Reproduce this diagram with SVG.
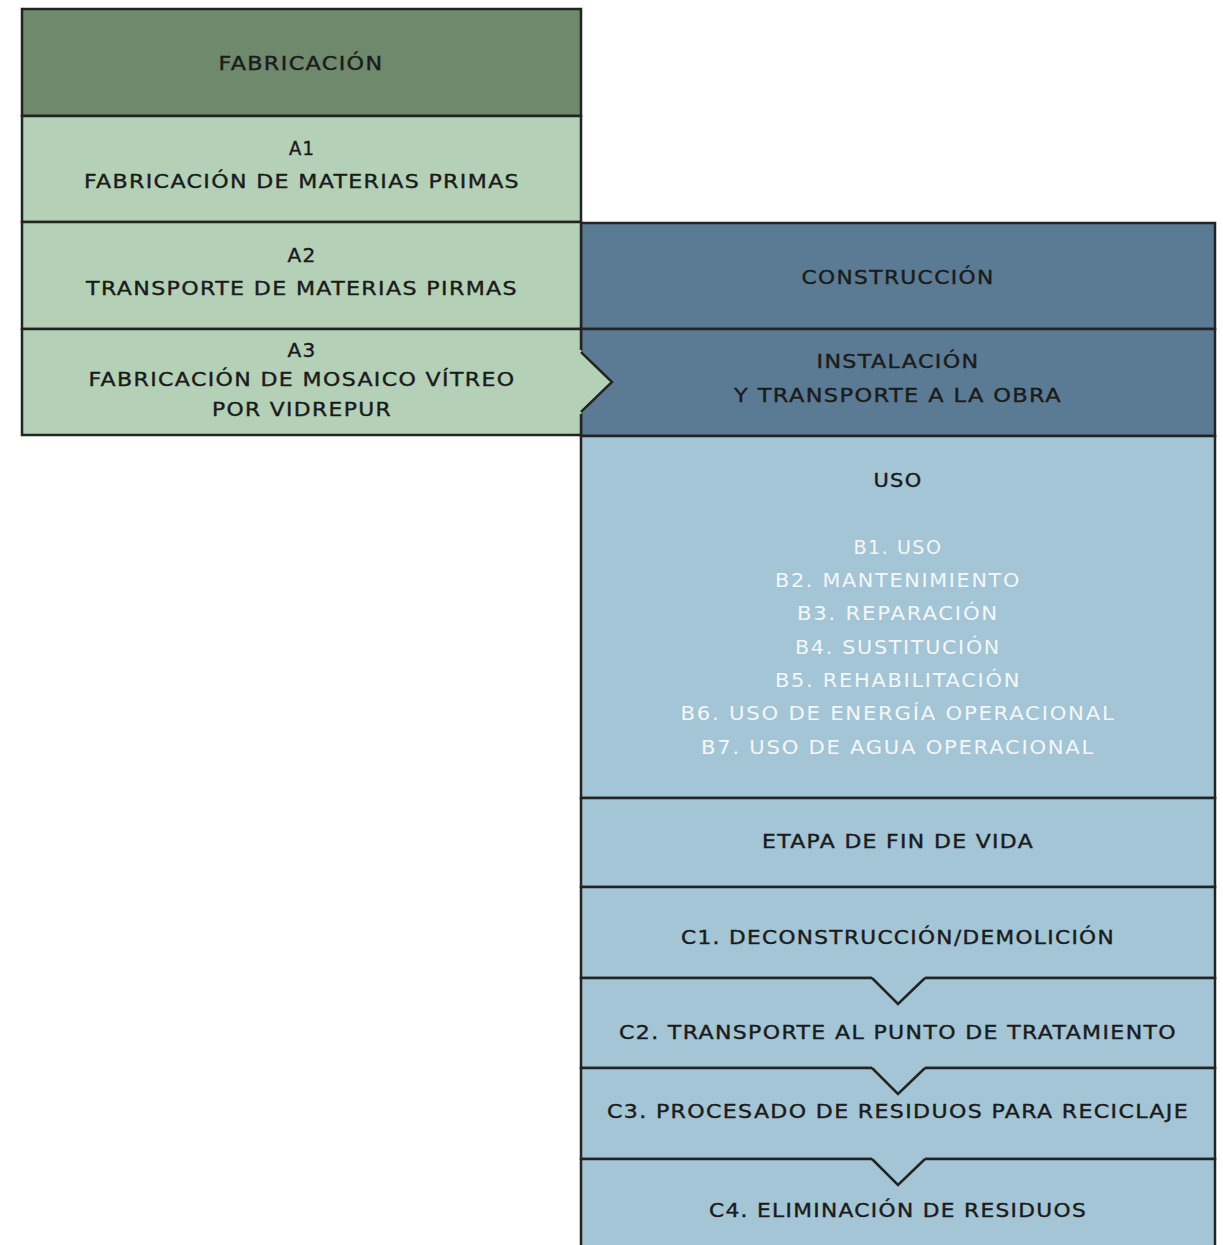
<svg xmlns="http://www.w3.org/2000/svg" width="1223" height="1245" viewBox="0 0 1223 1245">
<style>
.b{stroke:#232323;stroke-width:2.5;stroke-linejoin:miter}
.dg{fill:#6e896b}.lg{fill:#b4d1b7}.db{fill:#5b7b94}.lb{fill:#a3c5d5}
text{font-family:"DejaVu Sans","Liberation Sans",Arial,sans-serif;font-size:19.5px;letter-spacing:1.2px;text-anchor:middle;fill:#1b1b1b;stroke:#1b1b1b;stroke-width:0.4}
.w{fill:#f3f7f9;stroke:none;font-size:19.5px;letter-spacing:1.6px}
.c{fill:none;stroke:#232323;stroke-width:2.5}
</style>
<rect x="0" y="0" width="1223" height="1245" fill="#ffffff"/>
<g id="fabricacion"><rect class="b dg" x="22" y="9" width="559" height="107"/><text x="301" y="70" textLength="165" lengthAdjust="spacingAndGlyphs">FABRICACIÓN</text></g>
<g id="a1"><rect class="b lg" x="22" y="116" width="559" height="106"/><text x="302" y="155" textLength="26" lengthAdjust="spacingAndGlyphs">A1</text><text x="302" y="188" textLength="436" lengthAdjust="spacingAndGlyphs">FABRICACIÓN DE MATERIAS PRIMAS</text></g>
<g id="construccion"><rect class="b db" x="581" y="223" width="634" height="106"/><text x="898" y="284" textLength="193" lengthAdjust="spacingAndGlyphs">CONSTRUCCIÓN</text></g>
<g id="a2"><rect class="b lg" x="22" y="222" width="559" height="107"/><text x="302" y="262" textLength="29" lengthAdjust="spacingAndGlyphs">A2</text><text x="302" y="295" textLength="432" lengthAdjust="spacingAndGlyphs">TRANSPORTE DE MATERIAS PIRMAS</text></g>
<g id="instalacion"><rect class="b db" x="581" y="329" width="634" height="107"/><text x="898" y="368" textLength="163" lengthAdjust="spacingAndGlyphs">INSTALACIÓN</text><text x="898" y="402" textLength="328" lengthAdjust="spacingAndGlyphs">Y TRANSPORTE A LA OBRA</text></g>
<g id="a3"><rect class="b lg" x="22" y="329" width="559" height="106"/><text x="302" y="357" textLength="29" lengthAdjust="spacingAndGlyphs">A3</text><text x="302" y="386" textLength="427" lengthAdjust="spacingAndGlyphs">FABRICACIÓN DE MOSAICO VÍTREO</text><text x="302" y="416" textLength="180" lengthAdjust="spacingAndGlyphs">POR VIDREPUR</text></g>
<g id="uso"><rect class="b lb" x="581" y="436" width="634" height="362"/><text x="898" y="487" textLength="49" lengthAdjust="spacingAndGlyphs">USO</text>
<text class="w" x="898" y="554" textLength="89" lengthAdjust="spacingAndGlyphs">B1. USO</text>
<text class="w" x="898" y="587" textLength="246" lengthAdjust="spacingAndGlyphs">B2. MANTENIMIENTO</text>
<text class="w" x="898" y="620" textLength="202" lengthAdjust="spacingAndGlyphs">B3. REPARACIÓN</text>
<text class="w" x="898" y="654" textLength="206" lengthAdjust="spacingAndGlyphs">B4. SUSTITUCIÓN</text>
<text class="w" x="898" y="687" textLength="246" lengthAdjust="spacingAndGlyphs">B5. REHABILITACIÓN</text>
<text class="w" x="898" y="720" textLength="435" lengthAdjust="spacingAndGlyphs">B6. USO DE ENERGÍA OPERACIONAL</text>
<text class="w" x="898" y="754" textLength="394" lengthAdjust="spacingAndGlyphs">B7. USO DE AGUA OPERACIONAL</text></g>
<g id="fin-de-vida"><rect class="b lb" x="581" y="798" width="634" height="89"/><text x="898" y="848" textLength="272" lengthAdjust="spacingAndGlyphs">ETAPA DE FIN DE VIDA</text></g>
<g id="c1"><rect class="b lb" x="581" y="887" width="634" height="91"/><text x="898" y="944" textLength="434" lengthAdjust="spacingAndGlyphs">C1. DECONSTRUCCIÓN/DEMOLICIÓN</text></g>
<g id="c2"><rect class="b lb" x="581" y="978" width="634" height="90"/><text x="898" y="1039" textLength="558" lengthAdjust="spacingAndGlyphs">C2. TRANSPORTE AL PUNTO DE TRATAMIENTO</text></g>
<g id="c3"><rect class="b lb" x="581" y="1068" width="634" height="91"/><text x="898" y="1118" textLength="582" lengthAdjust="spacingAndGlyphs">C3. PROCESADO DE RESIDUOS PARA RECICLAJE</text></g>
<g id="c4"><rect class="b lb" x="581" y="1159" width="634" height="100"/><text x="898" y="1217" textLength="378" lengthAdjust="spacingAndGlyphs">C4. ELIMINACIÓN DE RESIDUOS</text></g>
<g id="connectors">
<polygon class="lg" points="578,350 581,350 613,382 581,414 578,414"/>
<polyline class="c" points="581,352 612,382 581,412"/>
<polygon class="lb" points="872,975.5 925,975.5 925,978 898,1004 872,978"/>
<polyline class="c" points="872,978 898,1004 925,978"/>
<polygon class="lb" points="872,1065.5 925,1065.5 925,1068 898,1094 872,1068"/>
<polyline class="c" points="872,1068 898,1094 925,1068"/>
<polygon class="lb" points="872,1156.5 925,1156.5 925,1159 898,1185 872,1159"/>
<polyline class="c" points="872,1159 898,1185 925,1159"/>
</g>
</svg>
